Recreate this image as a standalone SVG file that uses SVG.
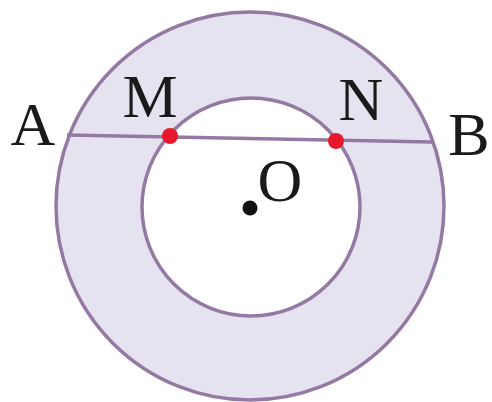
<svg xmlns="http://www.w3.org/2000/svg" width="492" height="402" viewBox="0 0 492 402">
<style>
.lbl{font-family:"Liberation Serif","Times New Roman",serif;font-size:62px;fill:#1a1a1a;text-anchor:middle}
.ring{stroke:#9479a3;stroke-width:3.5}
.pt{fill:#e8182c}
</style>
<rect width="492" height="402" fill="#ffffff"/>
<g id="outer-circle"><circle class="ring" cx="250" cy="206" r="194" fill="#e5e3f0"/></g>
<g id="inner-circle"><circle class="ring" cx="251" cy="207" r="109" fill="#ffffff"/></g>
<g id="connectors"><line x1="67" y1="135" x2="432" y2="142" stroke="#9479a3" stroke-width="3.5"/></g>
<g id="M"><circle class="pt" cx="170" cy="136" r="8"/><text class="lbl" x="150" y="117">M</text></g>
<g id="N"><circle class="pt" cx="336" cy="141" r="8"/><text class="lbl" x="361" y="120">N</text></g>
<g id="A"><text class="lbl" x="33" y="145">A</text></g>
<g id="B"><text class="lbl" x="469" y="155">B</text></g>
<g id="O"><circle cx="250" cy="208" r="7.5" fill="#111"/><text class="lbl" x="280" y="201">O</text></g>
</svg>
